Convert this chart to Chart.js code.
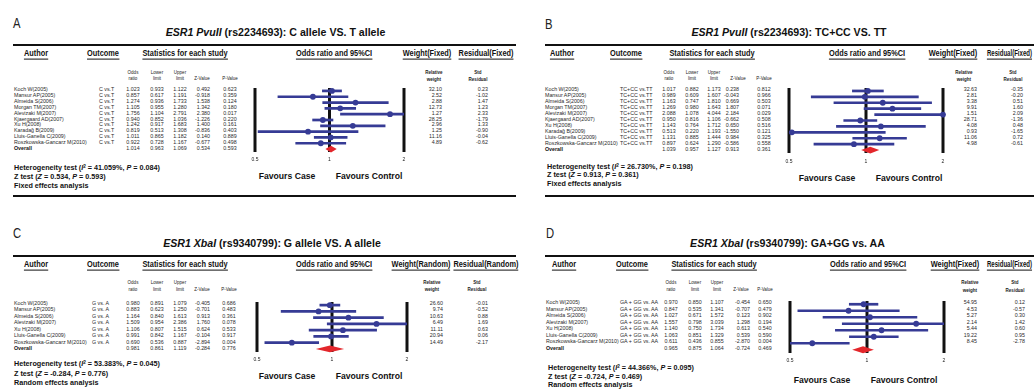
<!DOCTYPE html>
<html>
<head>
<meta charset="utf-8">
<script src="https://cdn.jsdelivr.net/npm/chart.js@4.4.1/dist/chart.umd.min.js"></script>
<style>
  html, body { margin: 0; padding: 0; background: #fff; }
  body { width: 1034px; height: 389px; position: relative; overflow: hidden;
         font-family: "Liberation Sans", Arial, sans-serif; color: #1b1b1b; }
  .t { position: absolute; white-space: nowrap; line-height: 1; }
  .rule { position: absolute; background: #111; }
  canvas { position: absolute; }
  .sup { font-size: 65%; position: relative; top: -0.45em; }
</style>
</head>
<body>
<script>
// ---- studies ----
const authorsPvu = ['Koch W(2005)', 'Mansur AP(2005)', 'Almeida S(2006)', 'Morgan TM(2007)', 'Alevizaki M(2007)',
  'Kjaergaard AD(2007)', 'Xu H(2008)', 'Karadağ B(2009)', 'Lluis-Ganella C(2009)', 'Roszkowska-Gancarz M(2010)'];
const authorsXba = ['Koch W(2005)', 'Mansur AP(2005)', 'Almeida S(2006)', 'Alevizaki M(2007)', 'Xu H(2008)',
  'Lluis-Ganella C(2009)', 'Roszkowska-Gancarz M(2010)'];

// ---- A: PvuII, C allele vs. T allele ----
const outcomeA = 'C vs.T';
const orA  = [1.023, 0.857, 1.274, 1.105, 1.756, 0.940, 1.242, 0.819, 1.011, 0.922];
const lowA = [0.933, 0.617, 0.936, 0.955, 1.104, 0.852, 0.917, 0.513, 0.865, 0.728];
const upA  = [1.122, 1.191, 1.733, 1.280, 2.791, 1.036, 1.683, 1.308, 1.182, 1.167];
const zA   = [0.492, -0.918, 1.538, 1.342, 2.380, -1.226, 1.400, -0.836, 0.140, -0.677];
const pA   = [0.623, 0.359, 0.124, 0.180, 0.017, 0.220, 0.161, 0.403, 0.889, 0.498];
const wA   = [32.10, 2.52, 2.88, 12.73, 1.27, 28.25, 2.96, 1.25, 11.16, 4.89];
const resA = [0.23, -1.02, 1.47, 1.23, 2.33, -1.79, 1.33, -0.90, -0.04, -0.62];
const overallA = [1.014, 0.963, 1.069, 0.534, 0.593];   // OR, lower, upper, Z, P
const hetA = [41.059, 0.084];                           // I², P

// ---- B: PvuII, TC+CC vs. TT ----
const outcomeB = 'TC+CC vs.TT';
const orB  = [1.017, 0.989, 1.163, 1.269, 2.088, 0.950, 1.143, 0.513, 1.131, 0.897];
const lowB = [0.882, 0.609, 0.747, 0.980, 1.078, 0.816, 0.764, 0.220, 0.885, 0.624];
const upB  = [1.173, 1.607, 1.810, 1.643, 4.044, 1.106, 1.712, 1.193, 1.444, 1.290];
const zB   = [0.238, -0.043, 0.669, 1.807, 2.184, -0.662, 0.650, -1.550, 0.984, -0.586];
const pB   = [0.812, 0.966, 0.503, 0.071, 0.029, 0.508, 0.516, 0.121, 0.325, 0.558];
const wB   = [32.63, 2.81, 3.38, 9.91, 1.51, 28.71, 4.08, 0.93, 11.06, 4.98];
const resB = [-0.35, -0.20, 0.51, 1.60, 2.09, -1.36, 0.48, -1.65, 0.72, -0.61];
const overallB = [1.039, 0.957, 1.127, 0.913, 0.361];
const hetB = [26.730, 0.198];

// ---- C: XbaI, G allele vs. A allele ----
const outcomeC = 'G vs. A';
const orC  = [0.980, 0.883, 1.164, 1.509, 1.106, 0.991, 0.690];
const lowC = [0.891, 0.623, 0.840, 0.954, 0.807, 0.842, 0.536];
const upC  = [1.079, 1.250, 1.613, 2.386, 1.515, 1.167, 0.887];
const zC   = [-0.405, -0.701, 0.913, 1.760, 0.624, -0.104, -2.894];
const pC   = [0.686, 0.483, 0.361, 0.078, 0.533, 0.917, 0.004];
const wC   = [26.60, 9.74, 10.63, 6.49, 11.11, 20.94, 14.49];
const resC = [-0.01, -0.52, 0.88, 1.69, 0.63, 0.06, -2.17];
const overallC = [0.981, 0.861, 1.119, -0.284, 0.776];
const hetC = [53.383, 0.045];

// ---- D: XbaI, GA+GG vs. AA ----
const outcomeD = 'GA + GG vs. AA';
const orD  = [0.970, 0.847, 1.027, 1.557, 1.140, 1.063, 0.611];
const lowD = [0.850, 0.535, 0.671, 0.798, 0.750, 0.851, 0.436];
const upD  = [1.107, 1.341, 1.572, 3.039, 1.734, 1.329, 0.855];
const zD   = [-0.454, -0.707, 0.123, 1.298, 0.613, 0.539, -2.870];
const pD   = [0.650, 0.479, 0.902, 0.194, 0.540, 0.590, 0.004];
const wD   = [54.95, 4.53, 5.27, 2.14, 5.44, 19.22, 8.45];
const resD = [0.12, -0.57, 0.30, 1.42, 0.60, 0.95, -2.78];
const overallD = [0.965, 0.875, 1.064, -0.724, 0.469];
const hetD = [44.366, 0.095];

// axis reference values (odds ratio)
const refTicks = [0.5, 1, 2];

// ---- styling ----
const NAVY = '#363b95';
const RED = '#e3262b';
const SX = 0.9;

function put(x, y, html, o = {}) {
  const d = document.createElement('div');
  d.className = 't';
  d.innerHTML = html;
  const a = o.align || 'l';
  const sx = o.sx ?? SX;
  d.style.left = x + 'px';
  d.style.top = y + 'px';
  d.style.fontSize = (o.size || 6) + 'px';
  if (o.bold) d.style.fontWeight = 'bold';
  if (o.color) d.style.color = o.color;
  if (o.ul) { d.style.borderBottom = '1.7px solid #111'; d.style.paddingBottom = '1.6px'; d.style.top = (y + 1.6) + 'px'; }
  const tx = a === 'l' ? '0' : a === 'c' ? '-50%' : '-100%';
  d.style.transformOrigin = (a === 'l' ? '0%' : a === 'c' ? '50%' : '100%') + ' 50%';
  d.style.transform = `translate(${tx},-50%) scaleX(${sx})`;
  document.body.appendChild(d);
}

function rule(x0, x1, y, h = 2.4) {
  const d = document.createElement('div');
  d.className = 'rule';
  d.style.left = x0 + 'px';
  d.style.top = (y - h / 2) + 'px';
  d.style.width = (x1 - x0) + 'px';
  d.style.height = h + 'px';
  document.body.appendChild(d);
}

// reference lines and pooled-estimate diamond
const forestPlugin = {
  id: 'forestMarks',
  beforeDatasetDraw(chart, args, opts) {
    if (args.index !== chart.data.datasets.length - 1) return;
    const xs = chart.scales.x, area = chart.chartArea, ctx = chart.ctx;
    ctx.save();
    ctx.strokeStyle = '#111';
    ctx.lineWidth = 3;
    refTicks.forEach(v => {
      const px = xs.getPixelForValue(v);
      ctx.beginPath();
      ctx.moveTo(px, area.top);
      ctx.lineTo(px, area.bottom);
      ctx.stroke();
    });
    ctx.restore();
  },
  afterDatasetsDraw(chart, args, opts) {
    const xs = chart.scales.x, ys = chart.scales.y, ctx = chart.ctx;
    const ov = opts.overall;
    const y = ys.getPixelForValue(opts.row);
    const xl = xs.getPixelForValue(ov[1]), xm = xs.getPixelForValue(ov[0]), xr = xs.getPixelForValue(ov[2]);
    ctx.save();
    ctx.fillStyle = RED;
    ctx.beginPath();
    ctx.moveTo(xl, y);
    ctx.lineTo(xm, y - 3.4);
    ctx.lineTo(xr, y);
    ctx.lineTo(xm, y + 3.4);
    ctx.closePath();
    ctx.fill();
    ctx.restore();
  }
};

function forest(P) {
  const n = P.or.length + 1;
  const sp = (P.yLast - P.yFirst) / (n - 1);
  const padL = 14, padR = 14, padT = 3, AXH = 14;
  const W = Math.round(P.x2 - P.x05 + padL + padR);
  const H = Math.round(padT + n * sp + AXH);
  const cv = document.createElement('canvas');
  cv.width = W; cv.height = H;
  cv.style.width = W + 'px'; cv.style.height = H + 'px';
  cv.style.left = (P.x05 - padL) + 'px';
  cv.style.top = (P.yFirst - sp / 2 - padT) + 'px';
  document.body.appendChild(cv);

  const ciSets = P.or.map((_, i) => ({
    type: 'scatter', showLine: true,
    data: [{ x: P.lo[i], y: i }, { x: P.up[i], y: i }],
    borderColor: NAVY, borderWidth: 2.7, pointRadius: 0, borderCapStyle: 'butt'
  }));
  const pts = {
    type: 'scatter',
    data: P.or.map((v, i) => ({ x: Math.min(Math.max(v, 0.5), 2), y: i })),
    backgroundColor: NAVY, borderWidth: 0, pointRadius: 2.9, clip: false
  };

  new Chart(cv, {
    type: 'scatter',
    data: { datasets: [...ciSets, pts] },
    plugins: [forestPlugin],
    options: {
      responsive: false, animation: false, devicePixelRatio: 1,
      layout: { padding: { left: padL, right: padR, top: padT, bottom: 0 } },
      plugins: { legend: { display: false }, tooltip: { enabled: false },
                 forestMarks: { overall: P.overall, row: n - 1 } },
      scales: {
        x: {
          type: 'logarithmic', min: 0.5, max: 2,
          afterBuildTicks: s => { s.ticks = refTicks.map(v => ({ value: v })); },
          afterFit: s => { s.height = AXH; },
          grid: { display: false, drawTicks: false }, border: { display: false },
          ticks: { autoSkip: false, maxRotation: 0, padding: P.tickPad, color: '#222',
                   font: { size: 5, family: 'Liberation Sans' }, callback: v => String(v) }
        },
        y: { type: 'linear', reverse: true, min: -0.5, max: n - 0.5, display: false }
      }
    }
  });
}

function panel(P) {
  put(P.lx, P.ly, P.letter, { size: 15, sx: 0.75, color: '#222' });
  put(P.tx, P.ty, P.title, { size: 10.6, bold: true, align: 'c', sx: 1, color: '#111' });
  rule(P.r0, P.r1, P.ruleY);
  P.hdr.forEach(h => put(h[1], P.hy, h[0], { size: 8.2, bold: true, ul: true, align: h[2] || 'c',
                                              sx: h[3] || SX, color: '#111' }));

  const c = P.col, sy = P.sy;
  put(c.or, sy[0], 'Odds', { size: 5, align: 'c' });   put(c.or, sy[1], 'ratio', { size: 5, align: 'c' });
  put(c.lo, sy[0], 'Lower', { size: 5, align: 'c' });  put(c.lo, sy[1], 'limit', { size: 5, align: 'c' });
  put(c.up, sy[0], 'Upper', { size: 5, align: 'c' });  put(c.up, sy[1], 'limit', { size: 5, align: 'c' });
  put(c.zH, sy[1], 'Z-Value', { size: 5, align: 'c' });
  put(c.p, sy[1], 'P-Value', { size: 5, align: 'c' });
  put(c.wH, sy[0] - 0.5, 'Relative', { size: 5, align: 'c', bold: true });
  put(c.wH, sy[1] + 0.5, 'weight', { size: 5, align: 'c', bold: true });
  put(c.rH, sy[0] - 0.5, 'Std', { size: 5, align: 'c', bold: true });
  put(c.rH, sy[1] + 0.5, 'Residual', { size: 5, align: 'c', bold: true });

  const n = P.or.length + 1;
  const sp = (P.yLast - P.yFirst) / (n - 1);
  const f = { size: 5.9, color: '#2a2a2a' };
  P.or.forEach((v, i) => {
    const y = P.yFirst + i * sp;
    put(c.author, y, P.authors[i], f);
    put(c.outcome, y, P.outcome, f);
    put(c.or, y, v.toFixed(3), { ...f, align: 'c' });
    put(c.lo, y, P.lo[i].toFixed(3), { ...f, align: 'c' });
    put(c.up, y, P.up[i].toFixed(3), { ...f, align: 'c' });
    put(c.zR, y, P.z[i].toFixed(3), { ...f, align: 'r' });
    put(c.p, y, P.p[i].toFixed(3), { ...f, align: 'c' });
    put(c.wR, y, P.w[i].toFixed(2), { ...f, align: 'r' });
    put(c.rR, y, P.res[i].toFixed(2), { ...f, align: 'r' });
  });
  const yo = P.yFirst + (n - 1) * sp;
  const ov = P.overall;
  put(c.author, yo, 'Overall', { ...f, bold: true, color: '#111' });
  put(c.or, yo, ov[0].toFixed(3), { ...f, align: 'c' });
  put(c.lo, yo, ov[1].toFixed(3), { ...f, align: 'c' });
  put(c.up, yo, ov[2].toFixed(3), { ...f, align: 'c' });
  put(c.zR, yo, ov[3].toFixed(3), { ...f, align: 'r' });
  put(c.p, yo, ov[4].toFixed(3), { ...f, align: 'c' });

  forest(P);

  put(P.fav[0], P.fav[2], 'Favours Case', { size: 9.6, bold: true, align: 'c', color: '#111' });
  put(P.fav[1], P.fav[2], 'Favours Control', { size: 9.6, bold: true, align: 'c', color: '#111' });

  const hf = { size: 8, bold: true, color: '#111' };
  put(P.het[0], P.het[1], `Heterogeneity test (<i>I</i><span class="sup">2</span> = ${P.hetv[0].toFixed(3)}%, <i>P</i> = ${P.hetv[1].toFixed(3)})`, hf);
  put(P.het[0], P.het[2], `Z test (<i>Z</i> = ${ov[3].toFixed(3)}, <i>P</i> = ${ov[4].toFixed(3)})`, hf);
  put(P.het[0], P.het[3], P.model, hf);
}

panel({
  letter: 'A', lx: 13, ly: 22,
  title: '<i>ESR1 PvuII</i> (rs2234693): C allele VS. T allele', tx: 275.5, ty: 32,
  r0: 13, r1: 516, ruleY: 45,
  hy: 53, hdr: [['Author', 35.5], ['Outcome', 103], ['Statistics for each study', 185],
                ['Odds ratio and 95%CI', 334], ['Weight(Fixed)', 427], ['Residual(Fixed)', 486]],
  sy: [72, 78],
  col: { author: 14, outcome: 99, or: 133, lo: 157, up: 180, zR: 210, zH: 201.5, p: 229.5,
         wR: 442, wH: 434, rR: 488, rH: 478 },
  yFirst: 90, yLast: 149, x05: 255, x2: 404, tickPad: 4.5,
  fav: [287, 369, 176], het: [14, 168, 177, 185.5],
  authors: authorsPvu, outcome: outcomeA,
  or: orA, lo: lowA, up: upA, z: zA, p: pA, w: wA, res: resA, overall: overallA, hetv: hetA,
  model: 'Fixed effects analysis'
});

panel({
  letter: 'B', lx: 545, ly: 23,
  title: '<i>ESR1 PvuII</i> (rs2234693): TC+CC VS. TT', tx: 789, ty: 32,
  r0: 545, r1: 1034, ruleY: 45,
  hy: 53, hdr: [['Author', 562], ['Outcome', 625.5], ['Statistics for each study', 711.5],
                ['Odds ratio and 95%CI', 866.5], ['Weight(Fixed)', 953], ['Residual(Fixed)', 1032, 'r', 0.74]],
  sy: [72, 78],
  col: { author: 545, outcome: 620, or: 669, lo: 692, up: 714, zR: 739, zH: 738, p: 764,
         wR: 977, wH: 964, rR: 1023, rH: 1013 },
  yFirst: 89.5, yLast: 149.5, x05: 789, x2: 943, tickPad: 6,
  fav: [827, 909, 178], het: [547, 167, 175, 183.5],
  authors: authorsPvu, outcome: outcomeB,
  or: orB, lo: lowB, up: upB, z: zB, p: pB, w: wB, res: resB, overall: overallB, hetv: hetB,
  model: 'Fixed effects analysis'
});

rule(13, 516, 196);
rule(545, 1034, 196);

panel({
  letter: 'C', lx: 13, ly: 232,
  title: '<i>ESR1 XbaI</i> (rs9340799): G allele VS. A allele', tx: 272, ty: 243,
  r0: 13, r1: 516, ruleY: 256,
  hy: 264, hdr: [['Author', 35.5], ['Outcome', 103], ['Statistics for each study', 185],
                 ['Odds ratio and 95%CI', 334], ['Weight(Random)', 421], ['Residual(Random)', 485.5]],
  sy: [282, 288.5],
  col: { author: 14, outcome: 92, or: 133, lo: 157, up: 180, zR: 210, zH: 202, p: 229,
         wR: 443, wH: 432, rR: 488, rH: 477 },
  yFirst: 304, yLast: 349, x05: 257, x2: 407, tickPad: 4.5,
  fav: [286.5, 369, 376], het: [14, 364, 374, 383],
  authors: authorsXba, outcome: outcomeC,
  or: orC, lo: lowC, up: upC, z: zC, p: pC, w: wC, res: resC, overall: overallC, hetv: hetC,
  model: 'Random effects analysis'
});

panel({
  letter: 'D', lx: 546, ly: 232,
  title: '<i>ESR1 XbaI</i> (rs9340799): GA+GG vs. AA', tx: 787.5, ty: 243,
  r0: 545, r1: 1034, ruleY: 256,
  hy: 264, hdr: [['Author', 564], ['Outcome', 631.5], ['Statistics for each study', 713.5],
                 ['Odds ratio and 95%CI', 867.5], ['Weight(Fixed)', 955], ['Residual(Fixed)', 1032, 'r', 0.74]],
  sy: [282, 289],
  col: { author: 546, outcome: 620, or: 671, lo: 695, up: 717, zR: 750, zH: 741, p: 765,
         wR: 977, wH: 970, rR: 1025, rH: 1015 },
  yFirst: 303, yLast: 349, x05: 790, x2: 944, tickPad: 5,
  fav: [822, 904, 380], het: [548, 368, 377, 385],
  authors: authorsXba, outcome: outcomeD,
  or: orD, lo: lowD, up: upD, z: zD, p: pD, w: wD, res: resD, overall: overallD, hetv: hetD,
  model: 'Random effects analysis'
});
</script>
</body>
</html>
